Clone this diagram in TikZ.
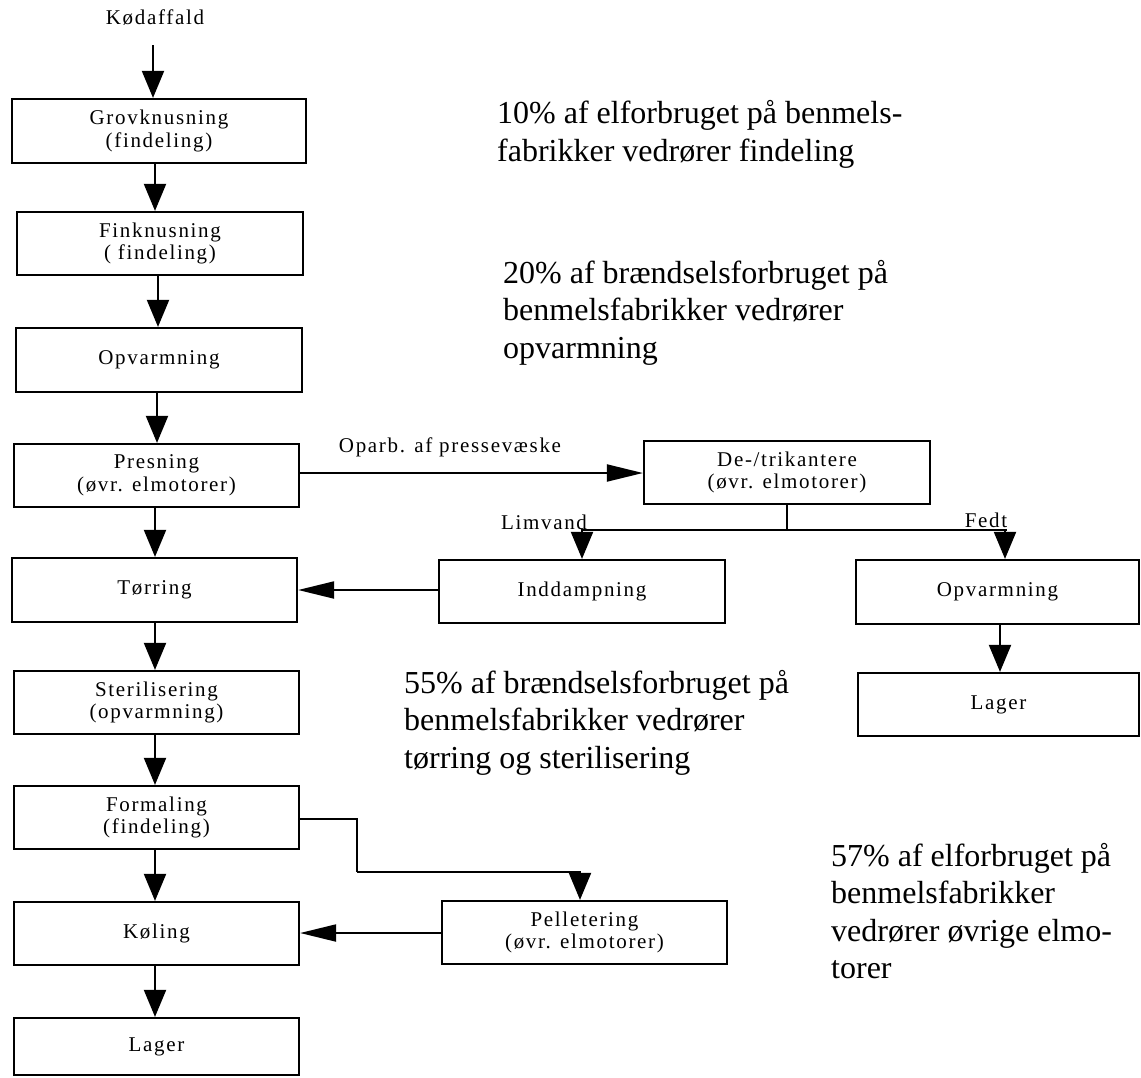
\documentclass[tikz,border=0pt]{standalone}
\usepackage{fontspec}
\setmainfont{Liberation Serif}
\newfontfamily\spc[LetterSpace=8]{Liberation Serif}
\usetikzlibrary{arrows.meta}
\begin{document}
\begin{tikzpicture}[x=1pt,y=-1pt,
  box/.style={draw,line width=2.2pt,inner sep=0pt,align=center,font=\spc\fontsize{21}{22.5}\selectfont},
  lbl/.style={inner sep=0pt,font=\spc\fontsize{21}{22.5}\selectfont},
  note/.style={inner sep=0pt,anchor=base west,align=left,font=\fontsize{32}{37.5}\selectfont},
  vflow/.style={line width=2pt,-{Triangle[length=27pt,width=22pt]}},
  hflow/.style={line width=2pt,-{Triangle[length=36pt,width=17pt]}},
  conn/.style={line width=2pt}]
\useasboundingbox (0,0) rectangle (1141,1077);
% left column
\node[lbl] (kod) at (155,18) {Kødaffald};
\node[box,minimum width=294pt,minimum height=64pt] (grov) at (159,131) {Grovknusning\\(findeling)};
\node[box,minimum width=286pt,minimum height=63pt] (fin) at (160,243.5) {Finknusning\\( findeling)};
\node[box,minimum width=286pt,minimum height=64pt] (opv) at (159,360) {Opvarmning};
\node[box,minimum width=285pt,minimum height=63pt] (pres) at (156.5,475.5) {Presning\\(øvr. elmotorer)};
\node[box,minimum width=285pt,minimum height=64pt] (tor) at (154.5,590) {Tørring};
\node[box,minimum width=285pt,minimum height=63pt] (ster) at (156.5,702.5) {Sterilisering\\(opvarmning)};
\node[box,minimum width=285pt,minimum height=63pt] (form) at (156.5,817.5) {Formaling\\(findeling)};
\node[box,minimum width=285pt,minimum height=63pt] (kol) at (156.5,933.5) {Køling};
\node[box,minimum width=285pt,minimum height=57pt] (lag) at (156.5,1046.5) {Lager};
% right part
\node[box,minimum width=286pt,minimum height=63pt] (detri) at (787,472.5) {De-/trikantere\\(øvr. elmotorer)};
\node[box,minimum width=286pt,minimum height=63pt] (indd) at (582,591.5) {Inddampning};
\node[box,minimum width=283pt,minimum height=64pt] (opv2) at (997.5,592) {Opvarmning};
\node[box,minimum width=281pt,minimum height=63pt] (lag2) at (998.5,704.5) {Lager};
\node[box,minimum width=285pt,minimum height=63pt] (pell) at (584.5,932.5) {Pelletering\\(øvr. elmotorer)};
% labels
\node[lbl] (oparb) at (450,447) {Oparb. af pressevæske};
\node[lbl] (limv) at (544,522) {Limvand};
\node[lbl] (fedt) at (986,520) {Fedt};
% notes (base = last line)
\node[note] (n1) at (497,161) {10\% af elforbruget på benmels-\\fabrikker vedrører findeling};
\node[note] (n2) at (503,358) {20\% af brændselsforbruget på\\benmelsfabrikker vedrører\\opvarmning};
\node[note] (n3) at (404,768) {55\% af brændselsforbruget på\\benmelsfabrikker vedrører\\tørring og sterilisering};
\node[note] (n4) at (831,978.5) {57\% af elforbruget på\\benmelsfabrikker\\vedrører øvrige elmo-\\torer};
% main flow
\coordinate (kin) at (153,45);
\draw[vflow] (kin) -- (kin |- grov.north);
\draw[vflow] (grov.south -| 155,0) -- (fin.north -| 155,0);
\draw[vflow] (fin.south -| 158,0) -- (opv.north -| 158,0);
\draw[vflow] (opv.south -| 157,0) -- (pres.north -| 157,0);
\draw[vflow] (pres.south -| 155,0) -- (tor.north -| 155,0);
\draw[vflow] (tor.south -| 155,0) -- (ster.north -| 155,0);
\draw[vflow] (ster.south -| 155,0) -- (form.north -| 155,0);
\draw[vflow] (form.south -| 155,0) -- (kol.north -| 155,0);
\draw[vflow] (kol.south -| 155,0) -- (lag.north -| 155,0);
% side flows
\draw[hflow] (pres.east |- 0,473) -- (detri.west |- 0,473);
\draw[conn] (detri.south) -- (detri.south |- 0,530) coordinate (split);
\draw[vflow] (split) -| (indd.north);
\draw[conn] (split) -- (1007,530);
\draw[vflow] (1005,530) -- ([xshift=7.5pt]opv2.north);
\draw[hflow] (indd.west |- 0,590) -- (tor.east |- 0,590);
\draw[vflow] (opv2.south -| 1000,0) -- (lag2.north -| 1000,0);
\draw[conn] (form.east |- 0,819) -- (357,819) -- (357,872) coordinate (bend);
\draw[vflow] (bend) -| ([xshift=-4.5pt]pell.north);
\draw[hflow] (pell.west |- 0,933) -- (kol.east |- 0,933);
\end{tikzpicture}
\end{document}
